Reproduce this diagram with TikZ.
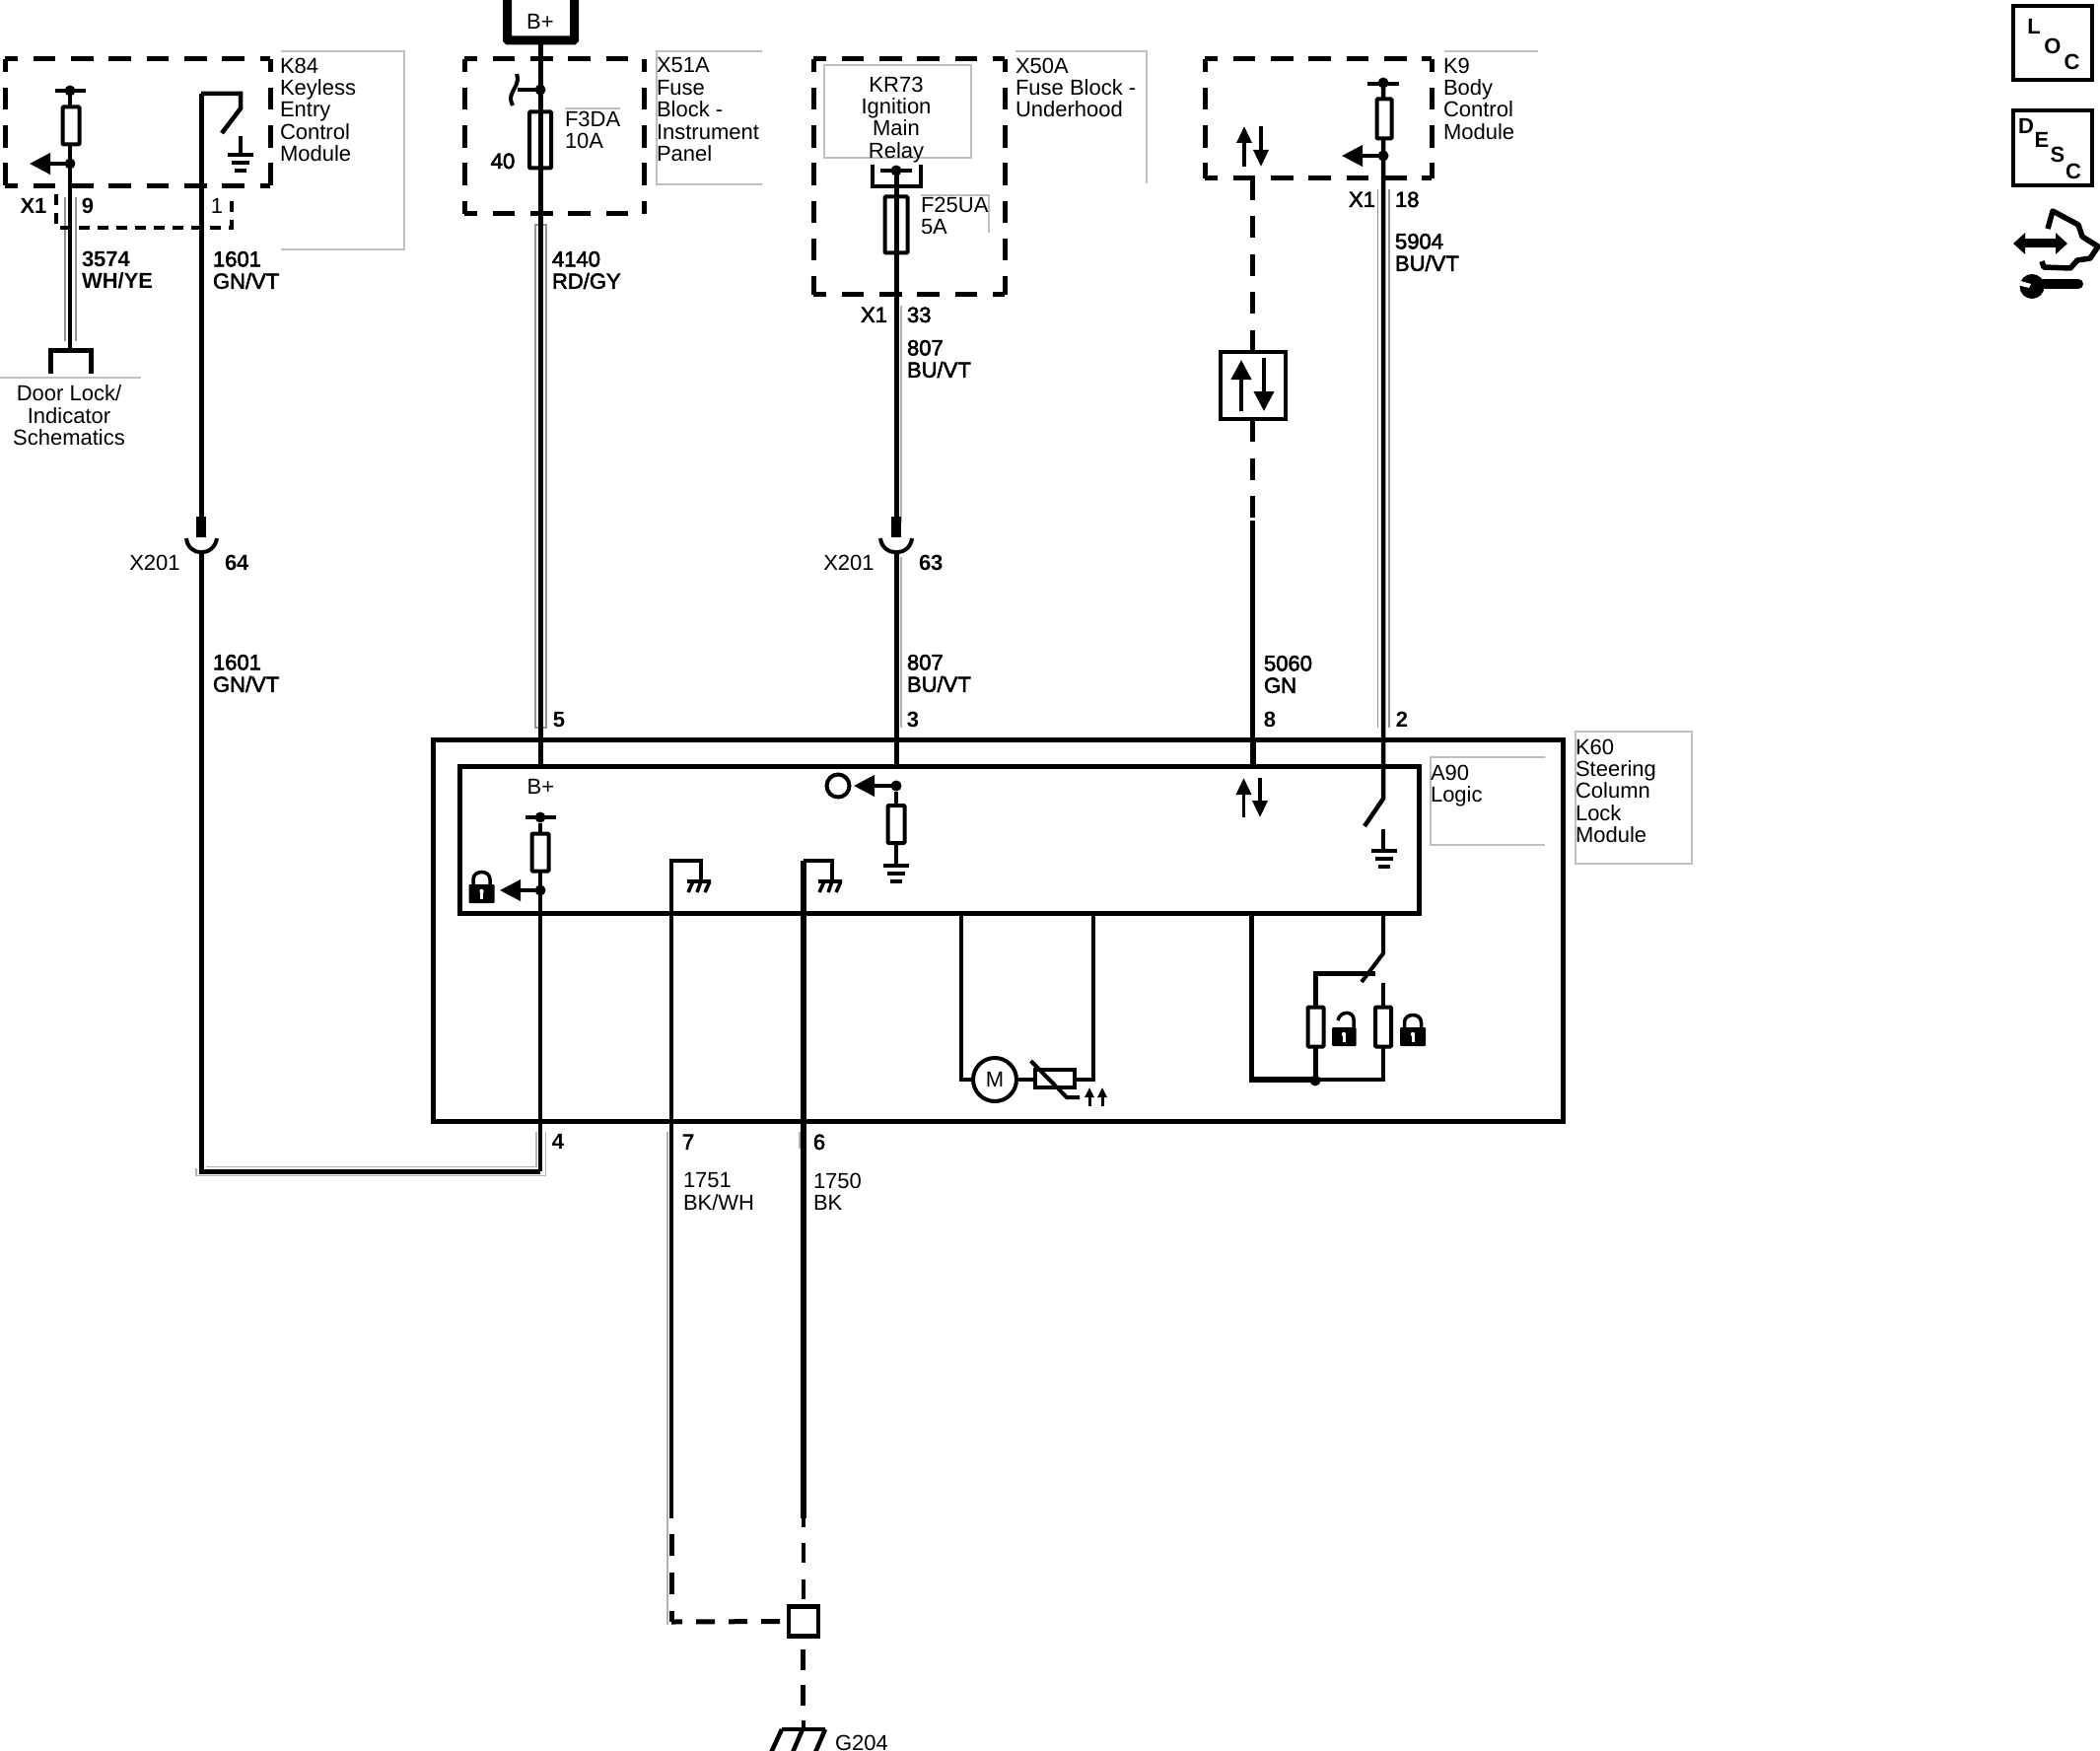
\documentclass[tikz,border=0pt]{standalone}
\usepackage{fontspec}
\setmainfont{Liberation Sans}
\newfontfamily\semifont[FakeBold=2.5]{Liberation Sans}
\usetikzlibrary{arrows.meta}
\newcommand{\dashedbox}[4]{%
  \draw[dbox] (#1,#2) -- (#3,#2);
  \draw[dbox] (#1,#4) -- (#3,#4);
  \draw[dbox] (#1,#2) -- (#1,#4);
  \draw[dbox] (#3,#2) -- (#3,#4);
}
\tikzset{
  x=1pt,y=-1pt,
  wire/.style={line width=4.5pt},
  fatwire/.style={line width=6pt},
  shade/.style={line width=1.5pt,draw=black!30},
  frame/.style={line width=1.5pt,draw=black!25},
  dbox/.style={line width=5pt,dash pattern=on 22.5pt off 15.8pt,dash phase=9.5pt},
  ddash/.style={line width=5pt,dash pattern=on 22pt off 16.5pt},
  res/.style={draw,fill=white,line width=4pt,minimum width=17pt,minimum height=38pt,inner sep=0pt,outer sep=0pt,rounded corners=1pt},
  jdot/.style={circle,fill=black,minimum size=11pt,inner sep=0pt,outer sep=0pt},
  lab/.style={inner sep=0pt,outer sep=0pt,font=\fontsize{22}{22.4}\selectfont,align=left,anchor=north west,yshift=-0.8pt},
  ctr/.style={inner sep=0pt,outer sep=0pt,font=\fontsize{22}{22.4}\selectfont,align=center,text height=15.8pt,text depth=0pt},
  blab/.style={lab,font=\fontsize{22}{22.4}\semifont,yshift=0.8pt},
  bctr/.style={ctr,font=\fontsize{22}{22.4}\selectfont\bfseries},
  loc/.style={ctr,font=\fontsize{22}{22}\selectfont\bfseries},
  head/.style={-{Triangle[length=21pt,width=21pt]},line width=4pt},
  heads/.style={-{Triangle[length=17pt,width=15pt]},line width=3.5pt},
  headt/.style={-{Triangle[length=10pt,width=9pt]},line width=3pt},
  gndbars/.pic={
    \draw[line width=4pt] (-13,0) -- (13,0);
    \draw[line width=4pt] (-9,8) -- (9,8);
    \draw[line width=4.5pt] (-6,16) -- (6,16);
  },
  chassis/.pic={
    \draw[line width=3.5pt] (-12,0) -- (12,0);
    \draw[line width=3.5pt] (-6,0) -- (-11,11) (2,0) -- (-2,11) (11,0) -- (6,11);
  },
  lockclosed/.pic={
    \fill[black,rounded corners=1pt] (-13,-19) rectangle (13,0);
    \draw[line width=3.5pt] (-8.5,-19) -- (-8.5,-24) .. controls (-8.5,-34) and (8.5,-34) .. (8.5,-24) -- (8.5,-19);
    \fill[white] (0,-12) circle (2.2pt);
    \fill[white] (-1.5,-12) rectangle (1.5,-4);
  },
  lockopen/.pic={
    \fill[black,rounded corners=1pt] (-12,-19) rectangle (12.5,0);
    \draw[line width=3.5pt] (-6,-26) .. controls (-4,-36) and (10,-36) .. (10,-27) -- (10,-19);
    \fill[white] (0,-12) circle (2.2pt);
    \fill[white] (-1.5,-12) rectangle (1.5,-4);
  },
}
\begin{document}
\begin{tikzpicture}
\useasboundingbox (0,0) rectangle (2130,1776);
\clip (0,0) rectangle (2130,1776);
\fill[white] (0,0) rectangle (2130,1776);

% ---- gray label frames
\draw[frame] (285,52) -- (410,52) -- (410,253) -- (285,253);
\draw[frame] (0,383) -- (143,383);
\draw[frame] (773,52) -- (666,52) -- (666,187) -- (773,187);
\draw[frame] (573,110) -- (629,110);
\draw[frame] (836,160) -- (836,66) -- (985,66) -- (985,160) -- cycle;
\draw[frame] (1030,52) -- (1163,52) -- (1163,186);
\draw[frame] (934,198) -- (1003,198) -- (1003,236);
\draw[frame] (1465,52) -- (1560,52);
\draw[frame] (1598,742) rectangle (1716,876);
\draw[frame] (1567,768) -- (1451,768) -- (1451,857) -- (1567,857);

% ---- coordinates of wire ends
\coordinate (a1t) at (71,92);  \coordinate (a1b) at (71,356);
\coordinate (a2t) at (204,95); \coordinate (a2k) at (244,95); \coordinate (a2m) at (244,110);
\coordinate (a2s) at (225,135);\coordinate (a2e) at (204,524);
\coordinate (a3t) at (204,560);\coordinate (a3c) at (204,1188);\coordinate (a3d) at (548,1188);
\coordinate (b1t) at (548,42); \coordinate (b1b) at (548,777);
\coordinate (c1t) at (909,173);\coordinate (c1b) at (909,524);
\coordinate (c2t) at (909,560);\coordinate (c2b) at (909,777);
\coordinate (d1t) at (1403,85);\coordinate (d1b) at (1403,810);\coordinate (d1s) at (1384,838);
\coordinate (e1t) at (1270.5,181);\coordinate (e1b) at (1270.5,356);
\coordinate (e2t) at (1270.5,426);\coordinate (e2m) at (1270.5,528);\coordinate (e2b) at (1270.5,777);
\coordinate (f1t) at (548,843);\coordinate (f1b) at (548,1188);
\coordinate (g1k) at (711,873);\coordinate (g1t) at (681,873);\coordinate (g1b) at (681,1540);
\coordinate (g1c) at (681,1645);\coordinate (g2k) at (844,873);\coordinate (g2t) at (815,873);\coordinate (g2b) at (815,1540);

% ---- wire shading
\draw[shade,draw=black!42] (66,200) -- (66,346);
\draw[shade,draw=black!42] (77,200) -- (77,346);
\draw[shade,draw=black!42] (543,228) -- (543,738) -- (554,738) -- (554,228) -- cycle;
\draw[shade] (914,310) -- (914,530);
\draw[shade] (914,565) -- (914,738);
\draw[shade,draw=black!42] (1397.5,192) -- (1397.5,738);
\draw[shade,draw=black!42] (1409,192) -- (1409,738);
\draw[shade] (544,1148) -- (544,1183.5) -- (209,1183.5);
\draw[shade] (553.5,1148) -- (553.5,1192.5) -- (199,1192.5) -- (199,1185);
\draw[shade] (677,1148) -- (677,1648);
\draw[shade] (811,1148) -- (811,1165);

% ---- dashed module outlines
\dashedbox{5}{60}{274}{189}
\dashedbox{471}{60}{653}{217}
\dashedbox{825}{60}{1019}{299}
\dashedbox{1222}{60}{1452}{181}
\draw[line width=4.5pt,dash pattern=on 11pt off 8pt] (57,197) -- (57,231) -- (235,231) -- (235,197);

% ---- wires
\draw[wire] (a1t) -- (a1b);
\draw[line width=5pt] (a2t) -- (a2e);
\draw[wire,line join=miter] (a2t) -- (a2k) -- (a2m) -- (a2s);
\draw[line width=10pt] (204,524) -- (204,545);
\draw[line width=4pt] (189,546) .. controls (191,565) and (217,565) .. (220,546);
\draw[line width=5pt] (a3t) -- (a3c) -- (a3d);
\draw[line width=5pt] (b1t) -- (b1b);
\draw[line width=5pt] (c1t) -- (c1b);
\draw[line width=10pt] (909,524) -- (909,545);
\draw[line width=4pt] (893,546) .. controls (895,565) and (923,565) .. (925,546);
\draw[line width=5pt] (c2t) -- (c2b);
\draw[line width=4.5pt] (d1t) -- (d1b) -- (d1s);
\draw[ddash] (e1t) -- (e1b);
\draw[ddash] (e2t) -- (e2m);
\draw[line width=5pt] (e2m) -- (e2b);
\draw[wire] (f1t) -- (f1b);
\draw[wire] (g1b) -- (g1t) -- (g1k) -- (711,893);
\draw[line width=5.5pt] (g2b) -- (815,873);
\draw[line width=4pt] (g2t) -- (g2k) -- (844,893);

% ---- A90 / K60 boxes (drawn over the wires)
\node[draw,line width=5pt,minimum width=1146pt,minimum height=387pt,inner sep=0pt,outer sep=0pt] (k60) at (1012,943.5) {};
\node[draw,line width=5pt,minimum width=973pt,minimum height=149pt,inner sep=0pt,outer sep=0pt] (a90) at (952.5,851.5) {};
\draw[line width=6pt] (1270.5,750) -- (1270.5,777);

% ---- lower ground dashes
\node[draw,fill=white,line width=4.5pt,minimum size=30pt,inner sep=0pt,outer sep=0pt] (splice) at (815,1644.5) {};
\draw[wire,dash pattern=on 9pt off 16pt on 20pt off 17pt on 20pt off 50pt] (g2b) -- (splice.north);
\draw[line width=5pt,dash pattern=on 22pt off 17pt] (g1b) ++(0,16) -- (g1c);
\draw[line width=5pt,dash pattern=on 11pt off 14pt on 19pt off 14pt on 19pt off 14pt on 19pt off 50pt] (g1c) -- (splice.west);
\draw[line width=5pt,dash pattern=on 21pt off 15pt] (814.5,1673) -- (814.5,1730);
\draw[line width=4pt] (814.5,1745) -- (814.5,1754);
\draw[line width=4.5pt] (793,1754) -- (837,1754);
\draw[line width=4.5pt] (793,1754) -- (780,1782) (814,1754) -- (802,1782) (837,1754) -- (825,1782);

% ---- K84 contents
\draw[line width=4pt] (56,92) -- (87,92);
\node[jdot] (k84d) at (71,92) {};
\node[res] (k84r) at (72,127.5) {};
\node[jdot] (k84j) at (71,166) {};
\coordinate (k84a) at (30,166);
\draw[head] (k84j) -- (k84a);
\draw[line width=4.5pt] (244,138) -- (244,157);
\pic at (244,157) {gndbars};
\draw[line width=5pt] (51,379) -- (51,356) -- (92,356) -- (92,379);

% ---- B+ and X51A
\node[draw,line width=9pt,minimum width=68pt,minimum height=60pt,inner sep=0pt,outer sep=0pt,fill=white,rounded corners=1pt] (bp) at (548.5,11) {};
\node[ctr] (bptext) at (548,22) {B+};
\draw[line width=4pt] (548,42) -- (548,60);
\node[jdot] (x51d) at (548,91) {};
\coordinate (x51h) at (525,91);
\draw[line width=4pt] (x51d) -- (x51h);
\draw[line width=4pt] (524,75) .. controls (528,85) and (518,92) .. (518,100) .. controls (518,102) and (519,105) .. (520,107);
\node[res,fill=none,minimum width=22pt,minimum height=57pt] (f3da) at (548,142) {};
\node[ctr,font=\fontsize{22}{22.4}\semifont] (n40) at (510,163) {40};
\node[lab] (f3text) at (573,112) {F3DA\\10A};
\node[lab] (x51text) at (666,58) {X51A\\Fuse\\Block -\\Instrument\\Panel};

% ---- X50A contents
\node[jdot] (x50d) at (909,173) {};
\draw[line width=4pt] (893,173) -- (925,173);
\draw[line width=4.5pt] (885,167) -- (885,189) -- (934,189) -- (934,167);
\node[res,fill=none,minimum width=23pt,minimum height=57pt] (f25) at (909,228) {};
\node[lab,align=center,anchor=north] (kr73) at (909,77) {KR73\\Ignition\\Main\\Relay};
\node[lab] (f25text) at (934,199) {F25UA\\5A};
\node[lab] (x50text) at (1030,58) {X50A\\Fuse Block -\\Underhood};

% ---- K9 contents
\draw[line width=4pt] (1387,85) -- (1419,85);
\node[jdot] (k9d) at (1403,84) {};
\node[res,minimum width=15pt,minimum height=40pt] (k9r) at (1404,120.5) {};
\node[jdot] (k9j) at (1403,158) {};
\coordinate (k9a) at (1361,158);
\draw[head] (k9j) -- (k9a);
\draw[heads] (1262,169) -- (1262,128);
\draw[heads] (1279,128) -- (1279,169);
\node[lab] (k9text) at (1464,58) {K9\\Body\\Control\\Module};

% ---- bidirectional box
\node[draw,fill=white,line width=4pt,minimum width=66pt,minimum height=68pt,inner sep=0pt,outer sep=0pt] (busbox) at (1270.5,391) {};
\draw[-{Triangle[length=20pt,width=20pt]},line width=4pt] (1259,417) -- (1259,365);
\draw[-{Triangle[length=20pt,width=20pt]},line width=4pt] (1282,363) -- (1282,417);

% ---- A90 contents
\node[ctr] (bplus2) at (548.5,798) {B+};
\draw[line width=4pt] (533,829) -- (564,829);
\node[jdot] (a90d1) at (548,829) {};
\draw[line width=4pt] (a90d1) -- (548,845);
\node[res] (a90r1) at (548,864.5) {};
\node[jdot] (a90j1) at (548,903) {};
\coordinate (a90a1) at (507,903);
\draw[head] (a90j1) -- (a90a1);
\pic at (488.5,916) {lockclosed};
\draw[line width=4pt] (a90r1) -- (a90j1);

\node[jdot] (a90j2) at (909,797) {};
\coordinate (a90a2) at (866,797);
\draw[head] (a90j2) -- (a90a2);
\node[draw,circle,line width=4pt,minimum size=23pt,inner sep=0pt,outer sep=0pt] (ring) at (850,797) {};
\draw[line width=4.5pt] (a90j2) -- (909,878);
\node[res] (a90r2) at (909,836) {};
\pic at (909,878) {gndbars};

\pic at (709,894) {chassis};
\pic at (842,894) {chassis};

\draw[heads] (1261.5,829) -- (1261.5,789);
\draw[heads] (1278,789) -- (1278,829);
\draw[line width=4pt] (1403,841) -- (1403,863);
\pic at (1404,863) {gndbars};

% ---- lower inside K60
\coordinate (m1) at (975,926);
\coordinate (m2) at (975,1095);
\coordinate (t1) at (1109,926);
\coordinate (t2) at (1109,1095);
\draw[line width=4pt] (m1) -- (m2) -- (1109,1095) -- (t1);
\node[draw,fill=white,circle,line width=4pt,minimum size=44pt,inner sep=0pt,outer sep=0pt] (motor) at (1009,1095) {};
\node[ctr] (mtext) at (1009,1095) {M};
\node[draw,fill=white,line width=4pt,minimum width=40pt,minimum height=18pt,inner sep=0pt,outer sep=0pt] (therm) at (1070,1094) {};
\draw[line width=4pt] (1045.5,1076) -- (1082,1113) -- (1095,1113);
\draw[headt] (1105,1122) -- (1105,1103);
\draw[headt] (1118,1122) -- (1118,1103);

\coordinate (p1) at (1269.5,926);
\coordinate (p2) at (1269.5,1095);
\coordinate (p3) at (1403,1095);
\coordinate (s1) at (1403,926);
\coordinate (s2) at (1403,967);
\coordinate (s3) at (1381,996);
\draw[line width=5.5pt] (p1) -- (p2) -- (1334,1095);
\draw[line width=4pt] (1334,1095) -- (p3) -- (1403,997);
\draw[line width=4pt] (s1) -- (s2) -- (s3);
\draw[line width=5pt] (1395,987) -- (1334,987) -- (1334,1095);
\node[res,minimum width=16pt,minimum height=40pt] (u1) at (1334.5,1041.5) {};
\node[res,minimum width=16pt,minimum height=40pt] (u2) at (1403,1041.5) {};
\node[jdot] (uj) at (1334,1096) {};
\pic at (1363,1061) {lockopen};
\pic at (1433,1061) {lockclosed};

% ---- text labels
\node[lab] (k84t) at (284,58) {K84\\Keyless\\Entry\\Control\\Module};
\node[bctr] (lx1a) at (34,209) {X1};
\node[bctr] (l9) at (89,209) {9};
\node[ctr] (l1) at (220,209) {1};
\node[blab,font=\fontsize{22}{22.4}\selectfont\bfseries] (w3574) at (83,255) {3574\\WH/YE};
\node[blab] (w1601a) at (216,255) {1601\\GN/VT};
\node[lab,align=center,anchor=north] (door) at (70,390) {Door Lock/\\Indicator\\Schematics};
\node[blab] (w4140) at (560,255) {4140\\RD/GY};
\node[ctr,font=\fontsize{22}{22.4}\semifont,anchor=west] (lx1b) at (873,319) {X1};
\node[ctr,font=\fontsize{22}{22.4}\semifont,anchor=west] (l33) at (920,319) {33};
\node[blab] (w807a) at (920,345) {807\\BU/VT};
\node[ctr,font=\fontsize{22}{22.4}\semifont,anchor=west] (lx1c) at (1368,202) {X1};
\node[ctr,font=\fontsize{22}{22.4}\semifont,anchor=west] (l18) at (1415,202) {18};
\node[blab] (w5904) at (1415,237) {5904\\BU/VT};
\node[ctr] (x201a) at (157,571) {X201};
\node[bctr,anchor=west] (l64) at (228,571) {64};
\node[ctr] (x201b) at (861,571) {X201};
\node[bctr,anchor=west] (l63) at (932,571) {63};
\node[blab] (w1601b) at (216,664) {1601\\GN/VT};
\node[blab] (w807b) at (920,664) {807\\BU/VT};
\node[blab] (w5060) at (1282,665) {5060\\GN};
\node[bctr] (l5) at (567,730) {5};
\node[bctr] (l3) at (926,730) {3};
\node[bctr] (l8) at (1288,730) {8};
\node[bctr] (l2) at (1422,730) {2};
\node[bctr] (l4) at (566,1158) {4};
\node[ctr,font=\fontsize{22}{22.4}\semifont] (l7) at (698,1158) {7};
\node[ctr,font=\fontsize{22}{22.4}\semifont] (l6) at (831,1158) {6};
\node[lab] (w1751) at (693,1189) {1751\\BK/WH};
\node[lab] (w1750) at (825,1189) {1750\\BK};
\node[lab] (k60t) at (1598,749) {K60\\Steering\\Column\\Lock\\Module};
\node[lab] (a90t) at (1451,775) {A90\\Logic};
\node[lab] (g204) at (847,1759) {G204};

% ---- corner icons
\node[draw,line width=4.5pt,minimum width=80pt,minimum height=75pt,inner sep=0pt,outer sep=0pt] (locbox) at (2082,43.5) {};
\node[loc] (ll) at (2063,27) {L};
\node[loc] (lo) at (2082,47) {O};
\node[loc] (lc) at (2101.5,63) {C};
\node[draw,line width=4.5pt,minimum width=80pt,minimum height=76pt,inner sep=0pt,outer sep=0pt] (descbox) at (2082,150) {};
\node[loc] (dd) at (2055,128) {D};
\node[loc] (de) at (2071,142) {E};
\node[loc] (ds) at (2087,157) {S};
\node[loc] (dc) at (2103,174) {C};
\draw[line width=5.5pt,line join=round] (2077,232) -- (2082,214) -- (2108,228) -- (2112,240) -- (2128,250) -- (2120,262) -- (2107,264) -- (2100,272) -- (2073,271) -- (2071,265);
\draw[{Triangle[length=12pt,width=21pt]}-{Triangle[length=12pt,width=21pt]},line width=9pt] (2042,247) -- (2097,247);
\draw[line width=10pt,line cap=round] (2066,288) -- (2108,288);
\fill[black] (2061,290.5) circle (12.5pt);
\fill[white] (2046,284) -- (2060,288) -- (2058,292) -- (2046,289) -- cycle;
\end{tikzpicture}
\end{document}
